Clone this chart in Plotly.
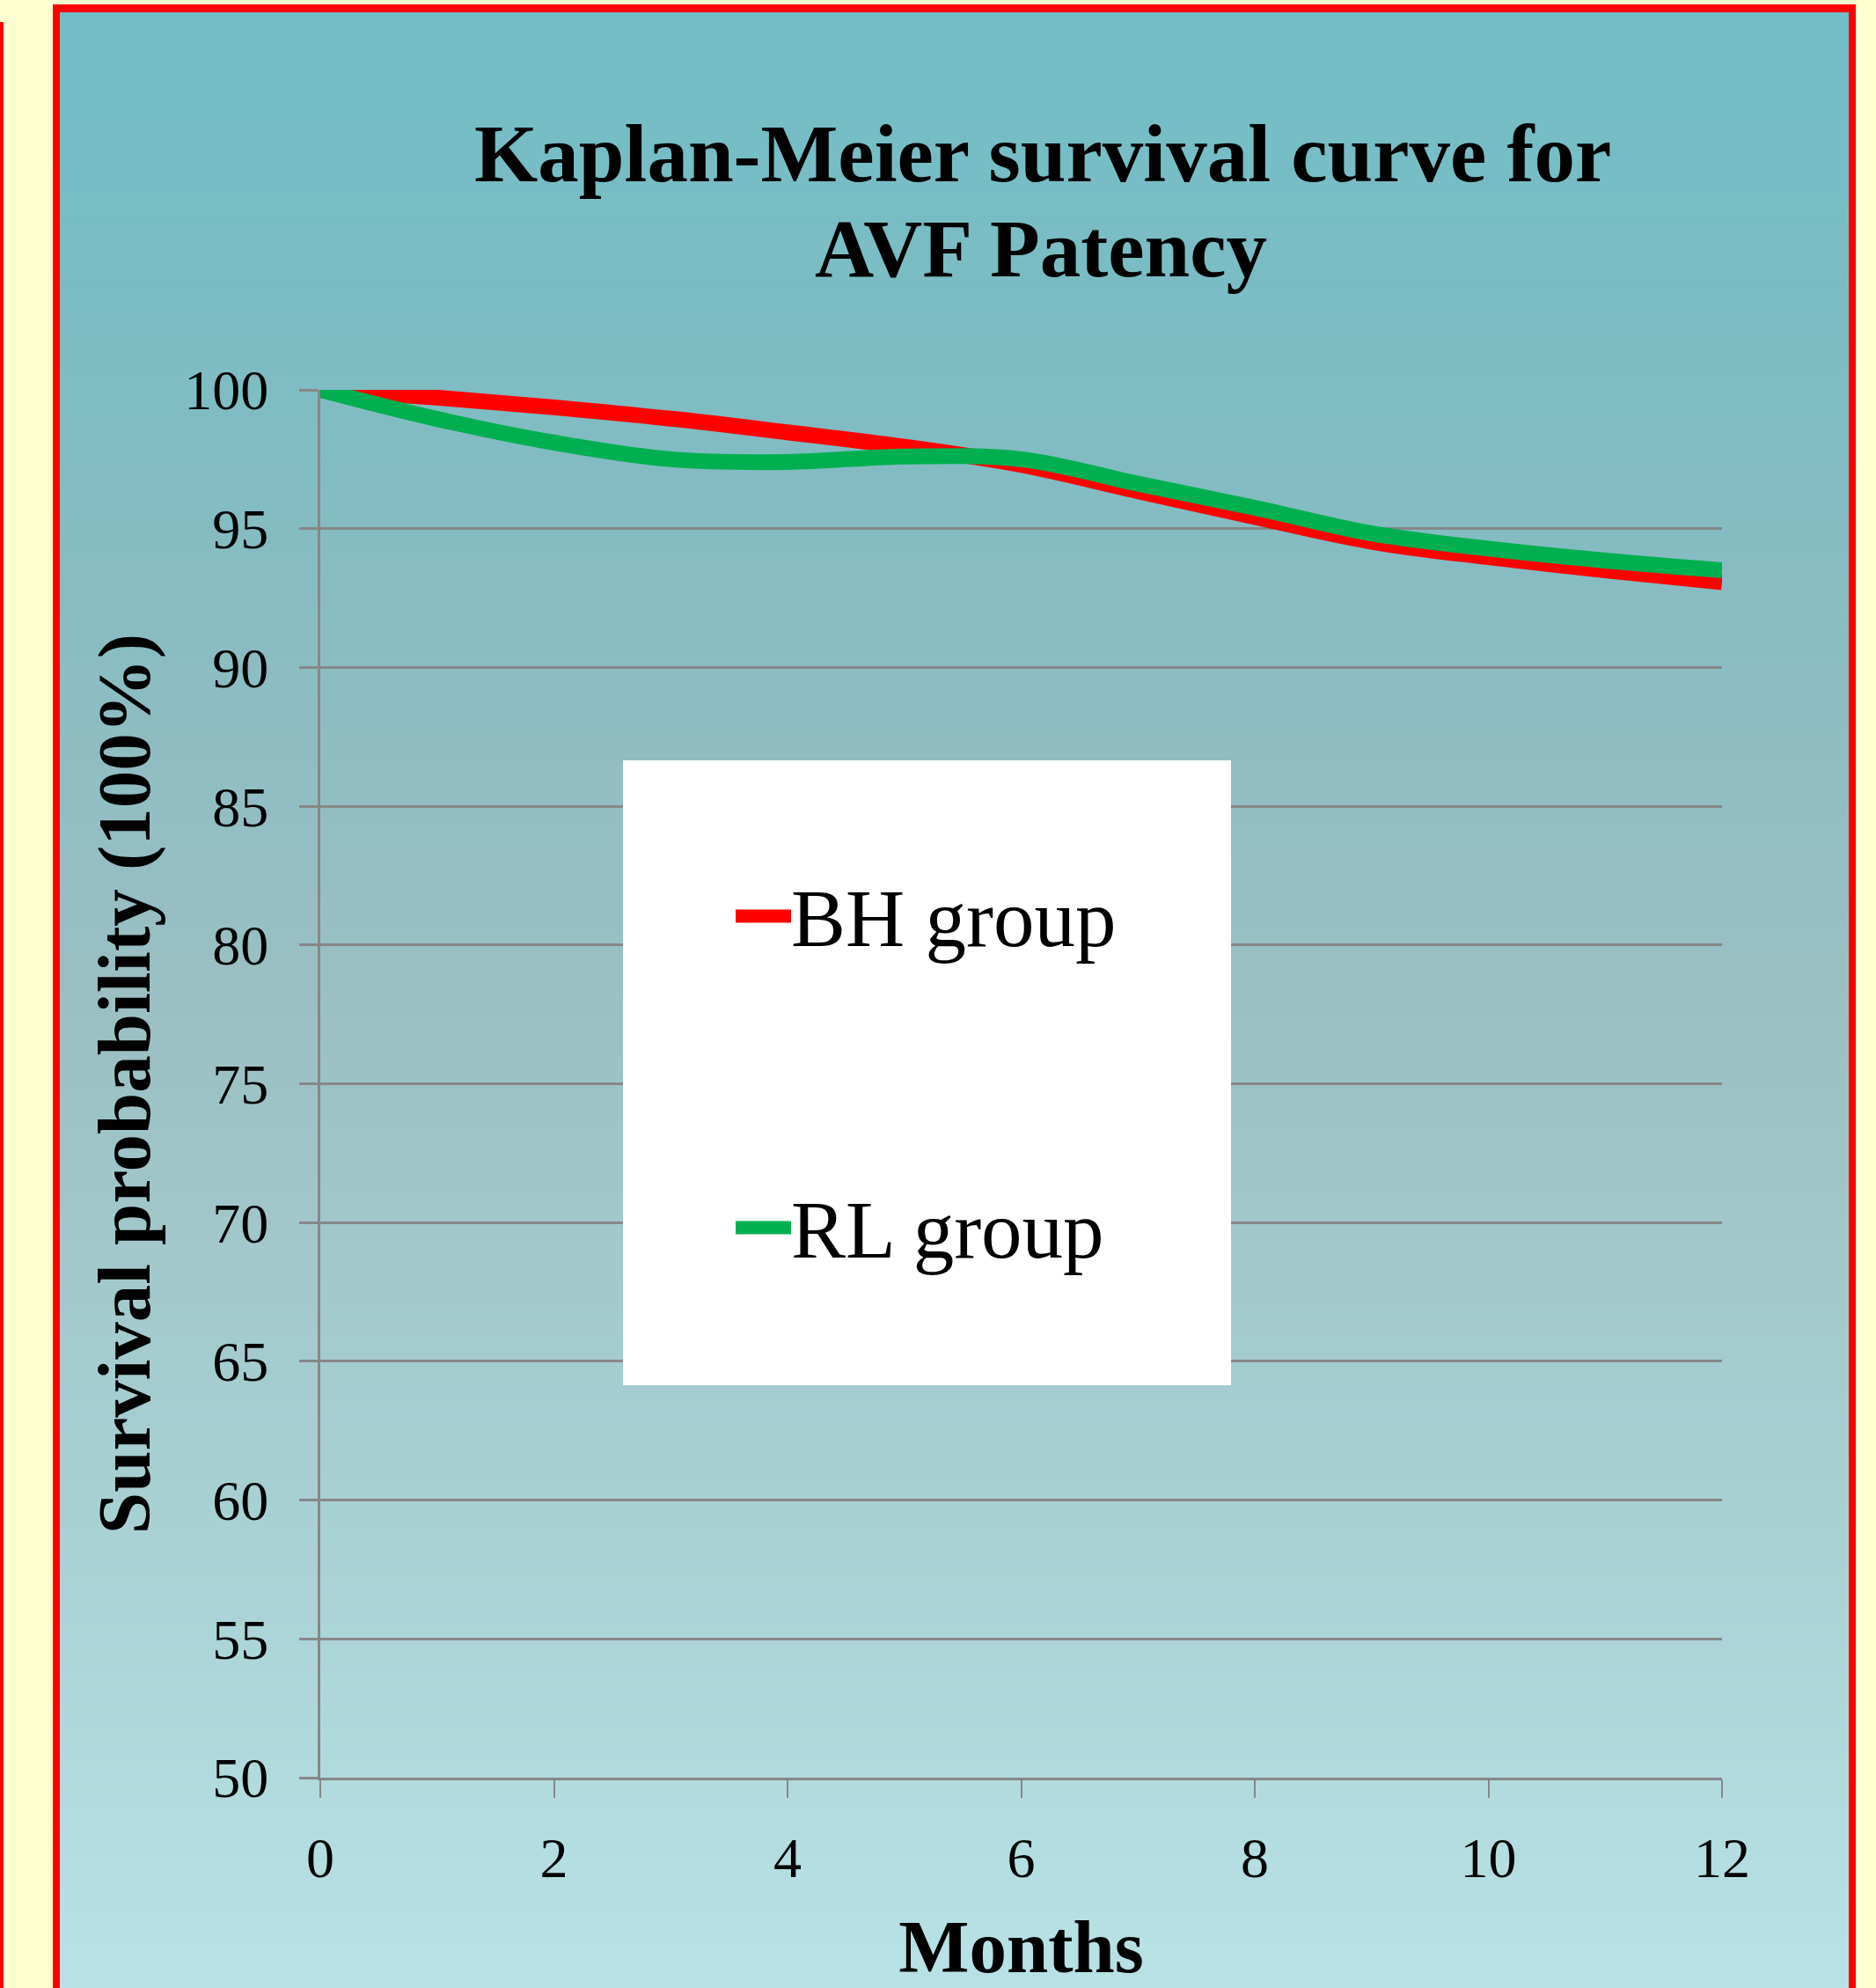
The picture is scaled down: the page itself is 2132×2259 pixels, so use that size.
import plotly.graph_objects as go

# ---------------- data ----------------
months = [0, 1, 2, 3, 4, 5, 6, 7, 8, 9, 10, 11, 12]
bh_group = [100, 99.72, 99.37, 98.96, 98.47, 97.95, 97.3, 96.35, 95.42, 94.53, 93.97, 93.5, 93.07]
rl_group = [100, 98.95, 98.1, 97.5, 97.4, 97.6, 97.5, 96.62, 95.75, 94.83, 94.28, 93.85, 93.5]
series_names = ["BH group", "RL group"]
x_ticks = [0, 2, 4, 6, 8, 10, 12]
y_ticks = [50, 55, 60, 65, 70, 75, 80, 85, 90, 95, 100]
x_title = "Months"
y_title = "Survival probability (100%)"
chart_title = ["Kaplan-Meier survival curve for", "AVF Patency"]

# ---------------- style ----------------
W, H = 2132, 2259
RED = "#FF0000"
GREEN = "#00B050"
GRID = "#878787"
YELLOW = "#FFFFD0"
SERIF = "Liberation Serif, Times New Roman, serif"


def px(x):
    return x / W


def py(y):
    return 1 - y / H


# gradient stops (y pixel, rgb)
stops = [
    (14, (114, 189, 198)),
    (600, (132, 188, 194)),
    (1130, (155, 191, 195)),
    (1700, (168, 208, 211)),
    (2259, (184, 226, 230)),
]


def grad_color(y):
    for (y0, c0), (y1, c1) in zip(stops[:-1], stops[1:]):
        if y0 <= y <= y1:
            t = (y - y0) / (y1 - y0)
            return "rgb(%d,%d,%d)" % tuple(round(a + (b - a) * t) for a, b in zip(c0, c1))
    return "rgb(%d,%d,%d)" % stops[-1][1]


shapes = []
# red frame
shapes.append(dict(type="rect", xref="paper", yref="paper", x0=px(60), x1=px(2109),
                   y0=py(2265), y1=py(5), fillcolor=RED, line_width=0, layer="below"))
# left red line
shapes.append(dict(type="rect", xref="paper", yref="paper", x0=px(0), x1=px(4),
                   y0=py(2265), y1=py(25), fillcolor=RED, line_width=0, layer="below"))
# gradient bands
n = 150
top, bot = 14, 2265
step = (bot - top) / n
for i in range(n):
    y0 = top + i * step
    y1 = y0 + step + 1
    shapes.append(dict(type="rect", xref="paper", yref="paper", x0=px(68), x1=px(2101),
                       y0=py(y1), y1=py(y0), fillcolor=grad_color(y0 + step / 2),
                       line_width=0, layer="below"))

# legend box (manual)
shapes.append(dict(type="rect", xref="paper", yref="paper", x0=px(708), x1=px(1399),
                   y0=py(1574), y1=py(864), fillcolor="white", line_width=0, layer="above"))
legend_rows = [(1041, RED, series_names[0]), (1395, GREEN, series_names[1])]
annotations = []
for yy, col, name in legend_rows:
    shapes.append(dict(type="line", xref="paper", yref="paper", x0=px(836), x1=px(899),
                       y0=py(yy), y1=py(yy), line=dict(color=col, width=15), layer="above"))
    annotations.append(dict(text=name, xref="paper", yref="paper", x=px(897), y=py(yy + 2),
                            xanchor="left", yanchor="middle", showarrow=False,
                            font=dict(family=SERIF, size=93, color="black")))

# title (two lines)
annotations.append(dict(text=chart_title[0], xref="paper", yref="paper",
                        x=px(1185), y=py(174), xanchor="center", yanchor="middle", showarrow=False,
                        font=dict(family=SERIF, size=93, color="black", weight="bold")))
annotations.append(dict(text=chart_title[1], xref="paper", yref="paper",
                        x=px(1183), y=py(282), xanchor="center", yanchor="middle", showarrow=False,
                        font=dict(family=SERIF, size=93, color="black", weight="bold")))

fig = go.Figure()
fig.add_trace(go.Scatter(x=months, y=bh_group, name=series_names[0], mode="lines",
                         line=dict(color=RED, width=18, shape="spline", smoothing=1.0)))
fig.add_trace(go.Scatter(x=months, y=rl_group, name=series_names[1], mode="lines",
                         line=dict(color=GREEN, width=18, shape="spline", smoothing=1.0)))

fig.update_layout(
    width=W, height=H, autosize=False,
    margin=dict(l=0, r=0, t=0, b=0, pad=0),
    paper_bgcolor=YELLOW, plot_bgcolor="rgba(0,0,0,0)",
    showlegend=False,
    shapes=shapes, annotations=annotations,
    xaxis=dict(
        domain=[px(364), px(1957)], range=[0, 12], tickvals=x_ticks,
        ticks="outside", ticklen=20, tickwidth=2, tickcolor=GRID,
        showline=True, linecolor=GRID, linewidth=3, showgrid=False, zeroline=False,
        tickfont=dict(family=SERIF, size=64, color="black"), ticklabelstandoff=13,
        title=dict(text=x_title, font=dict(family=SERIF, size=85, color="black", weight="bold"),
                   standoff=59),
        automargin=False,
    ),
    yaxis=dict(
        domain=[py(2020), py(443)], range=[50, 100], tickvals=y_ticks,
        ticks="outside", ticklen=21, tickwidth=3, tickcolor=GRID,
        showline=True, linecolor=GRID, linewidth=3, showgrid=True, gridcolor=GRID, gridwidth=3,
        zeroline=False,
        tickfont=dict(family=SERIF, size=64, color="black"), ticklabelstandoff=22,
        title=dict(text=y_title,
                   font=dict(family=SERIF, size=85, color="black", weight="bold"), standoff=11),
        automargin=False,
    ),
)

fig.write_html("out.html")
